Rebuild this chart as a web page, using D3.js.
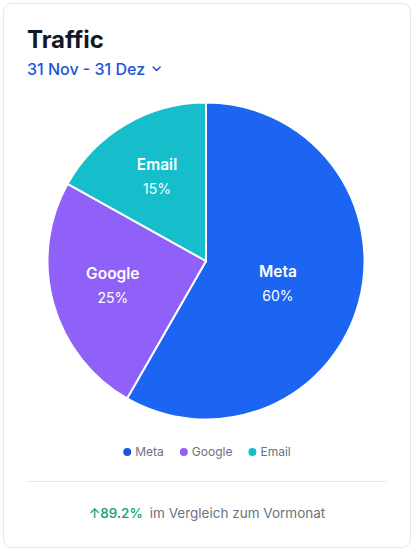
<!DOCTYPE html>
<html>
<head>
  <meta charset="utf-8">
  <title>Traffic</title>
  <script src="https://d3js.org/d3.v7.min.js"></script>
  <style>
    body {
      margin: 0;
      background: #fff;
      font-family: Inter, "Noto Sans", sans-serif;
    }
    svg { display: block; }
  </style>
</head>
<body>
  <svg id="chart"></svg>
  <script>
    // chart data
    const categories = ["Meta", "Google", "Email"];
    const shares = [58.3, 24.8, 16.9];
    const shareLabels = ["60%", "25%", "15%"];
    const sliceColors = ["#1c64f2", "#9061f9", "#16bdca"];
    const legendColors = ["#1a56db", "#9061f9", "#16bdca"];

    const width = 414;
    const height = 551;

    const svg = d3.select("#chart")
      .attr("width", width)
      .attr("height", height);

    // card
    svg.append("rect")
      .attr("x", 3.5).attr("y", 3.5)
      .attr("width", 407).attr("height", 544)
      .attr("rx", 8)
      .attr("fill", "#fff")
      .attr("stroke", "#e5e7eb");

    // header
    svg.append("text")
      .attr("x", 27).attr("y", 48)
      .attr("font-size", 24).attr("font-weight", 700)
      .attr("fill", "#111827")
      .text("Traffic");

    const dateText = svg.append("text")
      .attr("x", 27).attr("y", 75)
      .attr("font-size", 16).attr("font-weight", 500)
      .attr("fill", "#1a56db")
      .text("31 Nov - 31 Dez");
    const dw = dateText.node().getComputedTextLength();
    svg.append("path")
      .attr("d", `M${27 + dw + 8},67 l3.5,3.5 l3.5,-3.5`)
      .attr("fill", "none")
      .attr("stroke", "#1a56db")
      .attr("stroke-width", 1.6)
      .attr("stroke-linecap", "round")
      .attr("stroke-linejoin", "round");

    // pie
    const cx = 206, cy = 261, radius = 158.5;
    const pie = d3.pie().sort(null).value(d => d);
    const arcs = pie(shares);
    const arc = d3.arc().innerRadius(0).outerRadius(radius);

    const g = svg.append("g").attr("transform", `translate(${cx},${cy})`);

    g.selectAll("path")
      .data(arcs)
      .enter().append("path")
        .attr("d", arc)
        .attr("fill", (d, i) => sliceColors[i])
        .attr("stroke", "#fff")
        .attr("stroke-width", 2)
        .attr("stroke-linejoin", "round");

    // labels: big slices sit nearer the middle
    const labels = g.selectAll("g.lbl")
      .data(arcs)
      .enter().append("g")
        .attr("class", "lbl")
        .attr("transform", d => {
          const big = (d.endAngle - d.startAngle) > Math.PI;
          const r = big ? radius * 0.47 : radius * 0.61;
          const a = (d.startAngle + d.endAngle) / 2;
          return `translate(${Math.sin(a) * r},${-Math.cos(a) * r + (big ? 3 : -2)})`;
        });

    labels.append("text")
      .attr("text-anchor", "middle")
      .attr("y", -6)
      .attr("font-size", 15.5).attr("font-weight", 600)
      .attr("fill", "#fff")
      .text((d, i) => categories[i]);

    labels.append("text")
      .attr("text-anchor", "middle")
      .attr("y", 18)
      .attr("font-size", 14)
      .attr("fill", "#fff")
      .text((d, i) => shareLabels[i]);

    // legend
    const legend = svg.append("g").attr("transform", "translate(0,452)");
    let lx = 0;
    const items = legend.selectAll("g")
      .data(categories)
      .enter().append("g");
    items.append("circle")
      .attr("r", 4)
      .attr("cy", 0)
      .attr("fill", (d, i) => legendColors[i]);
    items.append("text")
      .attr("x", 8)
      .attr("y", 4)
      .attr("font-size", 12)
      .attr("fill", "#6b7280")
      .text(d => d);
    const widths = [];
    items.each(function () {
      widths.push(d3.select(this).select("text").node().getComputedTextLength() + 12);
    });
    const gap = 16;
    const total = d3.sum(widths) + gap * (widths.length - 1);
    lx = width / 2 - total / 2 + 4;
    items.attr("transform", (d, i) => {
      const x = lx;
      lx += widths[i] + gap;
      return `translate(${x},0)`;
    });

    // divider
    svg.append("line")
      .attr("x1", 27).attr("x2", 387)
      .attr("y1", 481.5).attr("y2", 481.5)
      .attr("stroke", "#e5e7eb");

    // footer
    const footer = svg.append("text")
      .attr("x", width / 2).attr("y", 518)
      .attr("text-anchor", "middle")
      .attr("font-size", 13.5);
    footer.append("tspan")
      .attr("fill", "#0e9f6e")
      .attr("font-weight", 500)
      .text("\u219189.2%");
    footer.append("tspan")
      .attr("fill", "#6b7280")
      .attr("dx", 7)
      .text("im Vergleich zum Vormonat");
  </script>
</body>
</html>
